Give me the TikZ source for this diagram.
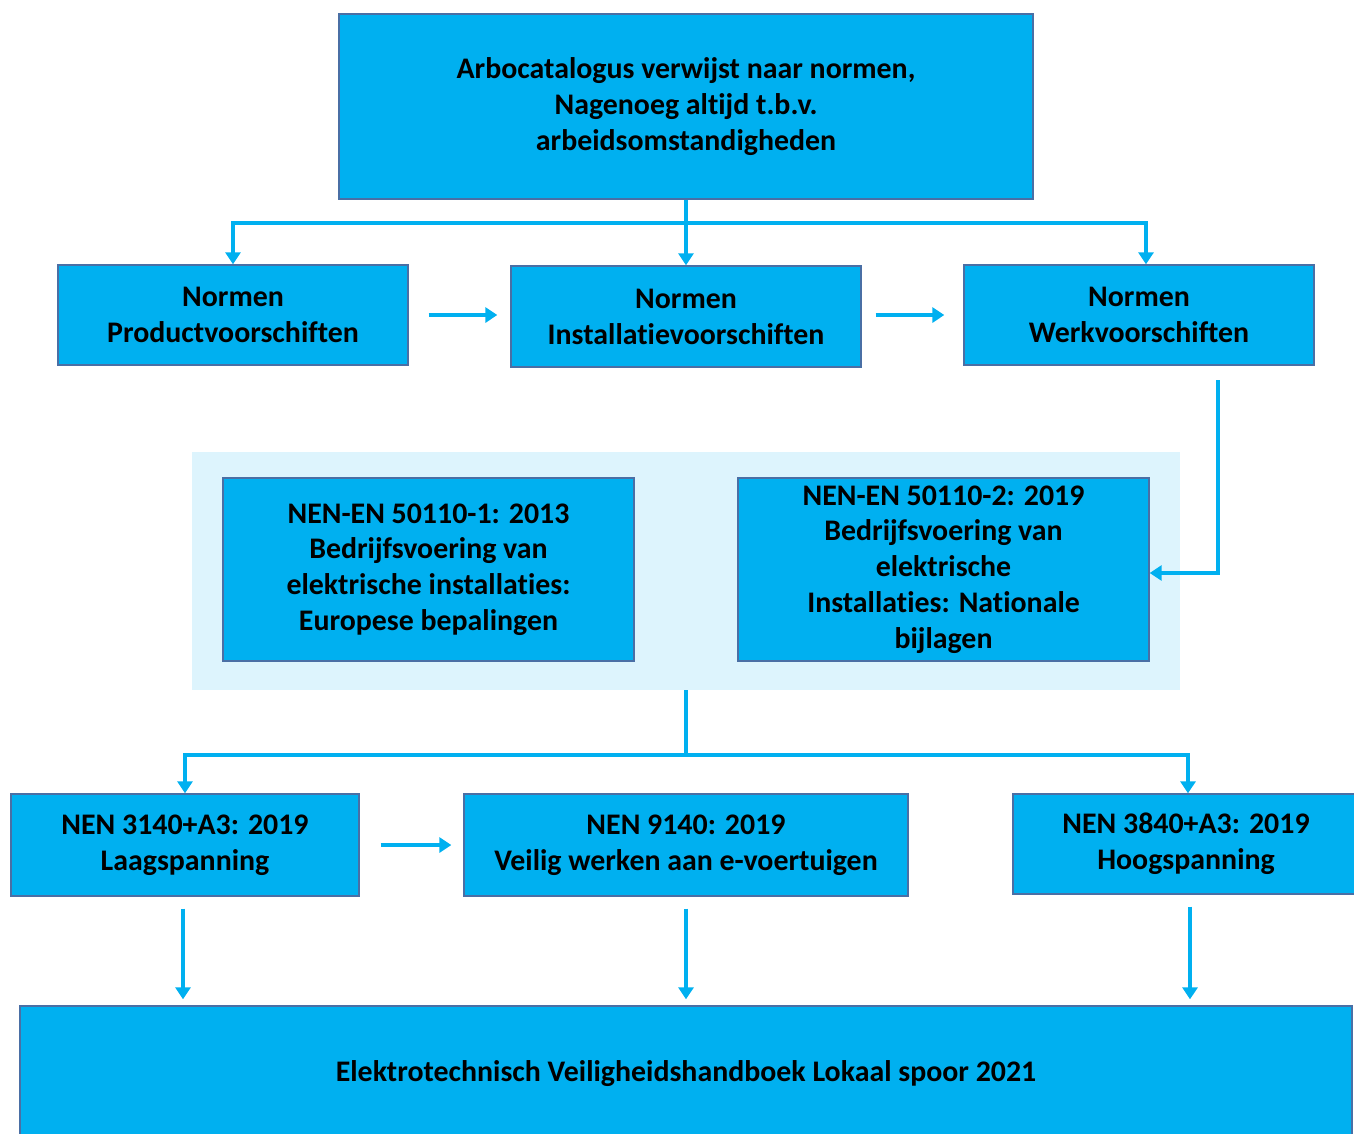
\documentclass[tikz,border=0pt]{standalone}
\usepackage{fontspec}
\setmainfont{Carlito}[Ligatures=NoCommon]
\usetikzlibrary{arrows.meta}
\definecolor{normfill}{HTML}{00B0F0}
\definecolor{normline}{HTML}{4A6FA5}
\definecolor{normbg}{HTML}{DDF4FD}
\definecolor{pijl}{HTML}{00B0F0}

\begin{document}
\begin{tikzpicture}[x=0.02cm,y=-0.02cm,
  normbox/.style={draw=normline,line width=0.8pt,fill=normfill,inner sep=0pt,align=center,
    font=\bfseries\fontsize{17}{20.4}\selectfont},
  bgbox/.style={fill=normbg,inner sep=0pt},
  pijlline/.style={draw=pijl,line width=2.2pt},
  pijlarrow/.style={pijlline,-{Triangle[length=0.24cm,width=0.3cm]}}]
  \useasboundingbox (0,0) rectangle (1354,1133);
  \node[normbox,minimum width=13.88cm,minimum height=3.7cm] (arbo) at (686,106.5)
    {Arbocatalogus verwijst naar normen,\\Nagenoeg altijd t.b.v.\\arbeidsomstandigheden};
  \node[normbox,minimum width=7cm,minimum height=2cm] (prod) at (233,315)
    {Normen\\Productvoorschiften};
  \node[normbox,minimum width=7cm,minimum height=2.02cm] (inst) at (686,316.5)
    {Normen\\Installatievoorschiften};
  \node[normbox,minimum width=7cm,minimum height=2cm] (werk) at (1139,315)
    {Normen\\Werkvoorschiften};
  \node[bgbox,minimum width=19.76cm,minimum height=4.76cm] (nenbg) at (686,571) {};
  \node[normbox,minimum width=8.22cm,minimum height=3.66cm] (nenA) at (428.5,569.5)
    {NEN-EN 50110-1: 2013\\Bedrijfsvoering van\\elektrische installaties:\\Europese bepalingen};
  \node[normbox,minimum width=8.22cm,minimum height=3.66cm] (nenB) at (943.5,569.5)
    {NEN-EN 50110-2: 2019\\Bedrijfsvoering van\\elektrische\\Installaties: Nationale\\bijlagen};
  \node[normbox,minimum width=6.96cm,minimum height=2.04cm] (laag) at (185,845)
    {NEN 3140+A3: 2019\\Laagspanning};
  \node[normbox,minimum width=8.88cm,minimum height=2.04cm] (evoer) at (686,845)
    {NEN 9140: 2019\\Veilig werken aan e-voertuigen};
  \node[normbox,minimum width=6.92cm,minimum height=2cm] (hoog) at (1186,844)
    {NEN 3840+A3: 2019\\Hoogspanning};
  \node[normbox,minimum width=26.64cm,minimum height=2.72cm] (eind) at (686,1074)
    {Elektrotechnisch Veiligheidshandboek Lokaal spoor 2021};

  \coordinate (bus1) at (686,223);
  \coordinate (bus2) at (686,755);
  \coordinate (werkuit) at (1218,380);

  \draw[pijlarrow] (arbo.south) -- (inst.north);
  \draw[pijlarrow] (bus1) -| (prod.north);
  \draw[pijlarrow] (bus1) -| ([xshift=0.14cm]werk.north);
  \draw[pijlarrow,shorten <=0.4cm,shorten >=0.26cm] (prod.east) -- (inst.west |- prod.east);
  \draw[pijlarrow,shorten <=0.28cm,shorten >=0.38cm] (inst.east |- werk.east) -- (werk.west);
  \draw[pijlarrow] (werkuit) |- ([yshift=-0.07cm]nenB.east);
  \draw[pijlline] (nenbg.south) -- (bus2);
  \draw[pijlarrow] (bus2) -| (laag.north);
  \draw[pijlarrow] (bus2) -| ([xshift=0.04cm]hoog.north);
  \draw[pijlarrow,shorten <=0.42cm,shorten >=0.24cm] (laag.east) -- (evoer.west |- laag.east);
  \draw[pijlarrow,shorten <=0.24cm,shorten >=0.12cm] ([xshift=-0.04cm]laag.south) -- ([xshift=-0.04cm]laag.south |- eind.north);
  \draw[pijlarrow,shorten <=0.24cm,shorten >=0.12cm] (evoer.south) -- (evoer.south |- eind.north);
  \draw[pijlarrow,shorten <=0.24cm,shorten >=0.12cm] ([xshift=0.08cm]hoog.south) -- ([xshift=0.08cm]hoog.south |- eind.north);
\end{tikzpicture}
\end{document}
